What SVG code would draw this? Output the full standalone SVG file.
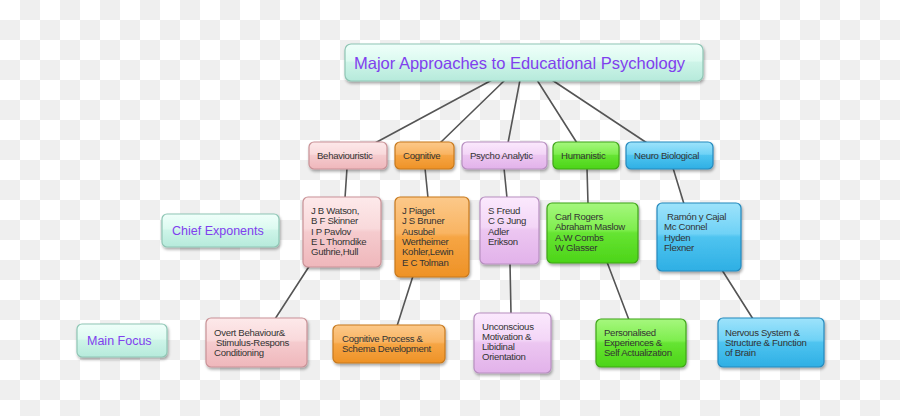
<svg xmlns="http://www.w3.org/2000/svg" width="900" height="416" viewBox="0 0 900 416">
<defs>
<pattern id="chk" width="40" height="40" patternUnits="userSpaceOnUse">
<rect width="40" height="40" fill="#ffffff"/>
<rect x="20" y="0" width="20" height="20" fill="#efefef"/>
<rect x="0" y="20" width="20" height="20" fill="#efefef"/>
</pattern>
<filter id="sh" x="-10%" y="-10%" width="130%" height="140%">
<feGaussianBlur in="SourceAlpha" stdDeviation="1.5"/>
<feOffset dx="1" dy="2" result="b"/>
<feComponentTransfer><feFuncA type="linear" slope="0.35"/></feComponentTransfer>
<feMerge><feMergeNode/><feMergeNode in="SourceGraphic"/></feMerge>
</filter>
<linearGradient id="gMint" x1="0" y1="0" x2="0" y2="1">
<stop offset="0" stop-color="#effffa"/><stop offset="0.45" stop-color="#dcfaf0"/><stop offset="0.5" stop-color="#cdf4e8"/><stop offset="1" stop-color="#b6eadb"/>
</linearGradient>
<linearGradient id="gPink" x1="0" y1="0" x2="0" y2="1">
<stop offset="0" stop-color="#fde9ea"/><stop offset="0.45" stop-color="#f9d9db"/><stop offset="0.5" stop-color="#f5cbce"/><stop offset="1" stop-color="#efb7bb"/>
</linearGradient>
<linearGradient id="gOrange" x1="0" y1="0" x2="0" y2="1">
<stop offset="0" stop-color="#fcc98a"/><stop offset="0.45" stop-color="#f9b462"/><stop offset="0.5" stop-color="#f6a544"/><stop offset="1" stop-color="#ee9226"/>
</linearGradient>
<linearGradient id="gLilac" x1="0" y1="0" x2="0" y2="1">
<stop offset="0" stop-color="#fbe9fd"/><stop offset="0.45" stop-color="#f3d6f7"/><stop offset="0.5" stop-color="#ecc6f1"/><stop offset="1" stop-color="#e2b2ea"/>
</linearGradient>
<linearGradient id="gGreen" x1="0" y1="0" x2="0" y2="1">
<stop offset="0" stop-color="#a6f77e"/><stop offset="0.45" stop-color="#7eee4e"/><stop offset="0.5" stop-color="#66e432"/><stop offset="1" stop-color="#4cd418"/>
</linearGradient>
<linearGradient id="gBlue" x1="0" y1="0" x2="0" y2="1">
<stop offset="0" stop-color="#9ee3fb"/><stop offset="0.45" stop-color="#6fd2f6"/><stop offset="0.5" stop-color="#4fc4f0"/><stop offset="1" stop-color="#2eafe4"/>
</linearGradient>
<style>
.box{filter:url(#sh);stroke-width:1.2}
.mint{fill:url(#gMint);stroke:#8fc6b5}
.pink{fill:url(#gPink);stroke:#c99297}
.orange{fill:url(#gOrange);stroke:#c7791d}
.lilac{fill:url(#gLilac);stroke:#b78fc0}
.green{fill:url(#gGreen);stroke:#3fa51a}
.blue{fill:url(#gBlue);stroke:#2589bd}
.t{font-family:"Liberation Sans",Arial,sans-serif;font-size:9.6px;letter-spacing:-0.3px;fill:#333333}
.p{font-family:"Liberation Sans",Arial,sans-serif;fill:#8040ee}
.ln{stroke:#555555;stroke-width:1.6;fill:none;stroke-linecap:round}
</style>
</defs>
<rect width="900" height="416" fill="url(#chk)"/>

<g id="connectors">
<line class="ln" x1="492" y1="80" x2="375" y2="143"/>
<line class="ln" x1="505" y1="80" x2="440" y2="143"/>
<line class="ln" x1="520" y1="80" x2="508" y2="143"/>
<line class="ln" x1="537" y1="80" x2="577" y2="143"/>
<line class="ln" x1="552" y1="80" x2="647" y2="143"/>
<line class="ln" x1="347" y1="168" x2="345" y2="198"/>
<line class="ln" x1="425" y1="168" x2="428" y2="198"/>
<line class="ln" x1="504" y1="168" x2="507" y2="198"/>
<line class="ln" x1="587" y1="168" x2="588" y2="204"/>
<line class="ln" x1="673" y1="168" x2="684" y2="204"/>
<line class="ln" x1="310" y1="265" x2="275" y2="319"/>
<line class="ln" x1="413" y1="276" x2="397" y2="326"/>
<line class="ln" x1="510" y1="263" x2="511" y2="314"/>
<line class="ln" x1="607" y1="262" x2="629" y2="320"/>
<line class="ln" x1="722" y1="270" x2="753" y2="319"/>
</g>

<g id="title">
<rect class="box mint" x="345" y="44" width="358" height="37" rx="6"/>
<text class="p" x="354" y="69" font-size="16.5">Major Approaches to Educational Psychology</text>
</g>

<g id="behaviouristic">
<rect class="box pink" x="309" y="142" width="78" height="27" rx="5"/>
<text class="t" x="317" y="159">Behaviouristic</text>
</g>
<g id="cognitive">
<rect class="box orange" x="395" y="142" width="59" height="27" rx="5"/>
<text class="t" x="403" y="159">Cognitive</text>
</g>
<g id="psychoanalytic">
<rect class="box lilac" x="462" y="142" width="85" height="27" rx="5"/>
<text class="t" x="470" y="159">Psycho Analytic</text>
</g>
<g id="humanistic">
<rect class="box green" x="553" y="142" width="66" height="27" rx="5"/>
<text class="t" x="561" y="159">Humanistic</text>
</g>
<g id="neurobiological">
<rect class="box blue" x="626" y="142" width="87" height="27" rx="5"/>
<text class="t" x="634" y="159">Neuro Biological</text>
</g>

<g id="chief-exponents">
<rect class="box mint" x="162" y="214" width="117" height="33" rx="5"/>
<text class="p" x="172" y="235" font-size="12.5">Chief Exponents</text>
</g>
<g id="main-focus">
<rect class="box mint" x="77" y="324" width="90" height="33" rx="5"/>
<text class="p" x="87" y="345" font-size="12.5">Main Focus</text>
</g>

<g id="exp-behaviouristic">
<rect class="box pink" x="303" y="197" width="78" height="70" rx="5"/>
<text class="t" x="311" y="214"><tspan x="311">J B Watson,</tspan><tspan x="311" dy="10.3">B F Skinner</tspan><tspan x="311" dy="10.3">I P Pavlov</tspan><tspan x="311" dy="10.3">E L Thorndike</tspan><tspan x="311" dy="10.3">Guthrie,Hull</tspan></text>
</g>
<g id="exp-cognitive">
<rect class="box orange" x="395" y="197" width="74" height="80" rx="5"/>
<text class="t" x="402" y="214"><tspan x="402">J Piaget</tspan><tspan x="402" dy="10.3">J S Bruner</tspan><tspan x="402" dy="10.3">Ausubel</tspan><tspan x="402" dy="10.3">Wertheimer</tspan><tspan x="402" dy="10.3">Kohler,Lewin</tspan><tspan x="402" dy="10.3">E C Tolman</tspan></text>
</g>
<g id="exp-psychoanalytic">
<rect class="box lilac" x="480" y="197" width="59" height="67" rx="5"/>
<text class="t" x="488" y="214"><tspan x="488">S Freud</tspan><tspan x="488" dy="10.3">C G Jung</tspan><tspan x="488" dy="10.3">Adler</tspan><tspan x="488" dy="10.3">Erikson</tspan></text>
</g>
<g id="exp-humanistic">
<rect class="box green" x="547" y="203" width="91" height="60" rx="5"/>
<text class="t" x="555" y="220"><tspan x="555">Carl Rogers</tspan><tspan x="555" dy="10.3">Abraham Maslow</tspan><tspan x="555" dy="10.3">A.W Combs</tspan><tspan x="555" dy="10.3">W Glasser</tspan></text>
</g>
<g id="exp-neurobiological">
<rect class="box blue" x="657" y="203" width="84" height="68" rx="5"/>
<text class="t" x="664" y="220"><tspan x="667">Ramón y Cajal</tspan><tspan x="664" dy="10.3">Mc Connel</tspan><tspan x="664" dy="10.3">Hyden</tspan><tspan x="664" dy="10.3">Flexner</tspan></text>
</g>

<g id="focus-behaviouristic">
<rect class="box pink" x="206" y="318" width="101" height="49" rx="5"/>
<text class="t" x="214" y="336"><tspan x="214">Overt Behaviour&amp;</tspan><tspan x="216" dy="10">Stimulus-Respons</tspan><tspan x="214" dy="10">Conditioning</tspan></text>
</g>
<g id="focus-cognitive">
<rect class="box orange" x="333" y="325" width="112" height="38" rx="5"/>
<text class="t" x="342" y="342"><tspan x="342">Cognitive Process &amp;</tspan><tspan x="342" dy="10.3">Schema Development</tspan></text>
</g>
<g id="focus-psychoanalytic">
<rect class="box lilac" x="474" y="313" width="77" height="60" rx="5"/>
<text class="t" x="482" y="329.5"><tspan x="482">Unconscious</tspan><tspan x="482" dy="10.3">Motivation &amp;</tspan><tspan x="482" dy="10.3">Libidinal</tspan><tspan x="482" dy="10.3">Orientation</tspan></text>
</g>
<g id="focus-humanistic">
<rect class="box green" x="596" y="319" width="90" height="48" rx="5"/>
<text class="t" x="604" y="336"><tspan x="604">Personalised</tspan><tspan x="604" dy="10">Experiences &amp;</tspan><tspan x="604" dy="10">Self Actualization</tspan></text>
</g>
<g id="focus-neurobiological">
<rect class="box blue" x="718" y="318" width="106" height="49" rx="5"/>
<text class="t" x="725" y="336"><tspan x="725">Nervous System &amp;</tspan><tspan x="725" dy="10">Structure &amp; Function</tspan><tspan x="725" dy="10">of Brain</tspan></text>
</g>
</svg>
